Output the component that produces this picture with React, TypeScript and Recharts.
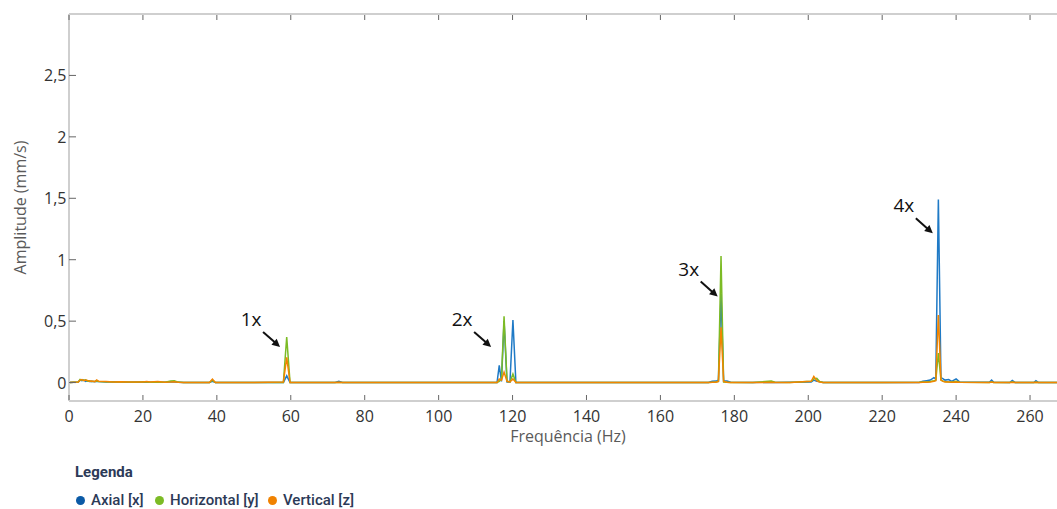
import React from 'react';
import { LineChart, Line, XAxis, YAxis, ReferenceDot, Label } from 'recharts';

// Frequency (Hz) of each spectrum sample
const freqs = [
  0, 2.5, 3, 3.5, 4, 4.5, 5, 5.5, 6, 7, 7.5, 8, 10, 12, 14, 16, 18, 20, 21, 22, 24, 26, 27.5, 28.5, 29.5, 31,
  38, 38.8, 39.6, 50, 58, 58.9, 59.8, 72, 73, 74, 100,
  115.8, 116.4, 117, 117.7, 118.5, 119.3, 120.1, 120.9, 140,
  173, 174, 175, 175.7, 176.4, 177.1, 178, 179, 185, 190, 191, 195,
  200.8, 201.5, 202.3, 203, 204, 220,
  230, 231, 232, 233, 234, 234.5, 235.2, 235.9, 236.5, 237, 238, 238.8, 240, 241,
  249, 249.6, 250.2, 254.5, 255.2, 256, 261, 261.6, 262.3, 270,
];

// Axial [x] amplitude (mm/s)
const axial = [
  0, 0.005, 0.02, 0.015, 0.02, 0.01, 0.015, 0.008, 0.01, 0.006, 0.01, 0.008, 0.005, 0.006, 0.004, 0.003, 0.004, 0.003, 0.002, 0.003, 0.002, 0.003, 0.006, 0.004, 0.003, 0,
  0, 0.01, 0, 0, 0, 0.055, 0, 0, 0.01, 0, 0,
  0, 0.14, 0.01, 0.5, 0.005, 0.005, 0.51, 0, 0,
  0, 0.01, 0.012, 0.02, 0.72, 0.015, 0.012, 0.002, 0, 0.003, 0, 0.002,
  0.005, 0.02, 0.01, 0.008, 0, 0,
  0, 0.01, 0.015, 0.02, 0.04, 0.03, 1.49, 0.04, 0.03, 0.02, 0.025, 0.01, 0.03, 0.005,
  0.003, 0.02, 0.003, 0, 0.018, 0, 0, 0.015, 0, 0,
];

// Horizontal [y] amplitude (mm/s)
const horizontal = [
  0, 0.005, 0.025, 0.02, 0.018, 0.022, 0.012, 0.015, 0.008, 0.01, 0.012, 0.008, 0.006, 0.004, 0.005, 0.004, 0.003, 0.006, 0.004, 0.003, 0.003, 0.002, 0.012, 0.015, 0.004, 0,
  0, 0.02, 0, 0, 0, 0.37, 0, 0, 0, 0, 0,
  0, 0.01, 0.03, 0.54, 0.01, 0.005, 0.07, 0, 0,
  0, 0.002, 0.005, 0.01, 1.03, 0.005, 0.003, 0, 0, 0.012, 0.003, 0,
  0.01, 0.03, 0.035, 0.01, 0, 0,
  0.003, 0.004, 0.005, 0.008, 0.015, 0.02, 0.24, 0.02, 0.01, 0.008, 0.005, 0.004, 0.01, 0.002,
  0, 0.005, 0, 0, 0.004, 0, 0, 0.003, 0, 0,
];

// Vertical [z] amplitude (mm/s)
const vertical = [
  0, 0.005, 0.02, 0.025, 0.015, 0.02, 0.018, 0.01, 0.012, 0.008, 0.022, 0.01, 0.008, 0.005, 0.006, 0.005, 0.004, 0.004, 0.008, 0.004, 0.008, 0.003, 0.004, 0.006, 0.003, 0,
  0, 0.028, 0, 0, 0.005, 0.205, 0, 0, 0.002, 0, 0,
  0, 0.03, 0.02, 0.085, 0.01, 0.005, 0.03, 0, 0,
  0, 0.002, 0.003, 0.01, 0.45, 0.01, 0.002, 0, 0, 0.002, 0, 0,
  0.01, 0.05, 0.015, 0.004, 0, 0,
  0, 0.002, 0.003, 0.005, 0.01, 0.015, 0.55, 0.02, 0.01, 0.005, 0.004, 0.003, 0.005, 0.002,
  0, 0.004, 0, 0, 0.003, 0, 0, 0.002, 0, 0,
];

const xTicks = [0, 20, 40, 60, 80, 100, 120, 140, 160, 180, 200, 220, 240, 260];
const yTicks = [0, 0.5, 1, 1.5, 2, 2.5];

// Harmonic annotations: label and arrow-tip position (Hz, mm/s)
const annoLabels = ['1x', '2x', '3x', '4x'];
const annoFreqs = [57.1, 114.2, 175.5, 233.7];
const annoAmps = [0.29, 0.29, 0.7, 1.215];

const seriesNames = ['Axial [x]', 'Horizontal [y]', 'Vertical [z]'];
const seriesColors = ['#1f7ac6', '#7cbb25', '#f28500'];
const legendDotColors = ['#0b5aa6', '#7cbb25', '#f08200'];

const data = freqs.map((f, i) => ({ f, x: axial[i], y: horizontal[i], z: vertical[i] }));

const fmt = (v: number) => String(v).replace('.', ',');

const makeArrow = (label: string) => (props: any) => {
  const { cx, cy } = props;
  const sx = cx - 17;
  const sy = cy - 15;
  const ang = Math.atan2(cy - sy, cx - sx);
  const L = 8;
  const W = 4;
  const bx = cx - L * Math.cos(ang);
  const by = cy - L * Math.sin(ang);
  const p1x = bx + W * Math.sin(ang);
  const p1y = by - W * Math.cos(ang);
  const p2x = bx - W * Math.sin(ang);
  const p2y = by + W * Math.cos(ang);
  return (
    <g>
      <line x1={sx} y1={sy} x2={bx + Math.cos(ang)} y2={by + Math.sin(ang)} stroke="#111" strokeWidth={2} />
      <polygon points={`${cx},${cy} ${p1x},${p1y} ${p2x},${p2y}`} fill="#111" />
      <text x={cx - 29} y={cy - 21} textAnchor="middle" fontSize={19} fontFamily="Open Sans" fill="#111">
        {label}
      </text>
    </g>
  );
};

// Bottom axis tick: inward tick mark + label below
const BottomTick = (props: any) => {
  const { x, y, payload } = props;
  return (
    <g>
      <line x1={x} y1={y - 1} x2={x} y2={y - 6} stroke="#666" strokeWidth={1} />
      <text x={x} y={y + 21} textAnchor="middle" fontSize={16} fontFamily="Open Sans" fill="#333">
        {payload.value}
      </text>
    </g>
  );
};

// Top border tick: inward tick mark only
const TopTick = (props: any) => {
  const { x, y } = props;
  return <line x1={x} y1={y + 1} x2={x} y2={y + 6} stroke="#666" strokeWidth={1} />;
};

// Left axis tick: inward tick mark + label to the left
const LeftTick = (props: any) => {
  const { x, y, payload } = props;
  return (
    <g>
      <line x1={x} y1={y} x2={x + 7} y2={y} stroke="#666" strokeWidth={1} />
      <text x={x - 2.5} y={y} textAnchor="end" dominantBaseline="central" fontSize={16} fontFamily="Open Sans" fill="#333">
        {fmt(payload.value)}
      </text>
    </g>
  );
};

const YLabel = (props: any) => {
  const vb = props.viewBox || { x: 0, y: 14, width: 69, height: 387 };
  const cx = vb.x + 20;
  const cy = vb.y + vb.height / 2;
  return (
    <text
      x={cx}
      y={cy}
      transform={`rotate(-90, ${cx}, ${cy})`}
      textAnchor="middle"
      dominantBaseline="central"
      fontSize={16}
      fontFamily="Open Sans"
      fill="#5a5a5a"
    >
      Amplitude (mm/s)
    </text>
  );
};

const legendTextStyle: React.CSSProperties = {
  position: 'absolute',
  fontFamily: 'Roboto',
  fontSize: 15,
  fontWeight: 500,
  color: '#2c3a57',
  whiteSpace: 'nowrap',
  lineHeight: '18px',
};

const dotLefts = [76, 155, 268];
const textLefts = [91, 170, 283];

export default function App() {
  return (
    <div
      style={{
        position: 'absolute',
        left: 0,
        top: 0,
        width: 1057,
        height: 509,
        overflow: 'hidden',
        background: '#fff',
      }}
    >
      <LineChart width={1067} height={450} data={data} margin={{ top: 13, right: 0, bottom: 0, left: 0 }}>
        <XAxis
          xAxisId="top"
          orientation="top"
          type="number"
          dataKey="f"
          domain={[0, 270]}
          ticks={xTicks}
          allowDataOverflow
          height={1}
          tickSize={0}
          tickMargin={0}
          tickLine={false}
          tick={<TopTick />}
          axisLine={{ stroke: '#cfcfcf', strokeWidth: 2 }}
        />
        <XAxis
          type="number"
          dataKey="f"
          domain={[0, 270]}
          ticks={xTicks}
          allowDataOverflow
          height={49}
          tickSize={0}
          tickMargin={0}
          tickLine={false}
          tick={<BottomTick />}
          axisLine={{ stroke: '#cfcfcf', strokeWidth: 2 }}
        >
          <Label
            value="Frequência (Hz)"
            position="insideBottom"
            offset={8}
            style={{ fill: '#5a5a5a', fontSize: 16, fontFamily: 'Open Sans' }}
          />
        </XAxis>
        <YAxis
          type="number"
          domain={[-0.15, 3]}
          ticks={yTicks}
          allowDataOverflow
          width={69}
          tickSize={0}
          tickMargin={0}
          tickLine={false}
          tick={<LeftTick />}
          axisLine={{ stroke: '#cfcfcf', strokeWidth: 2 }}
        >
          <Label content={<YLabel />} />
        </YAxis>
        <Line type="linear" dataKey="x" name={seriesNames[0]} stroke={seriesColors[0]} strokeWidth={1.5} dot={false} isAnimationActive={false} />
        <Line type="linear" dataKey="y" name={seriesNames[1]} stroke={seriesColors[1]} strokeWidth={1.5} dot={false} isAnimationActive={false} />
        <Line type="linear" dataKey="z" name={seriesNames[2]} stroke={seriesColors[2]} strokeWidth={1.5} dot={false} isAnimationActive={false} />
        {annoLabels.map((lab, i) => (
          <ReferenceDot
            key={lab}
            x={annoFreqs[i]}
            y={annoAmps[i]}
            r={0}
            ifOverflow="visible"
            shape={makeArrow(lab)}
          />
        ))}
      </LineChart>
      <div style={{ ...legendTextStyle, left: 75, top: 463, fontWeight: 700 }}>Legenda</div>
      {seriesNames.map((n, i) => (
        <React.Fragment key={n}>
          <div
            style={{
              position: 'absolute',
              left: dotLefts[i],
              top: 495.5,
              width: 9,
              height: 9,
              borderRadius: '50%',
              background: legendDotColors[i],
            }}
          />
          <div style={{ ...legendTextStyle, left: textLefts[i], top: 491 }}>{n}</div>
        </React.Fragment>
      ))}
    </div>
  );
}
